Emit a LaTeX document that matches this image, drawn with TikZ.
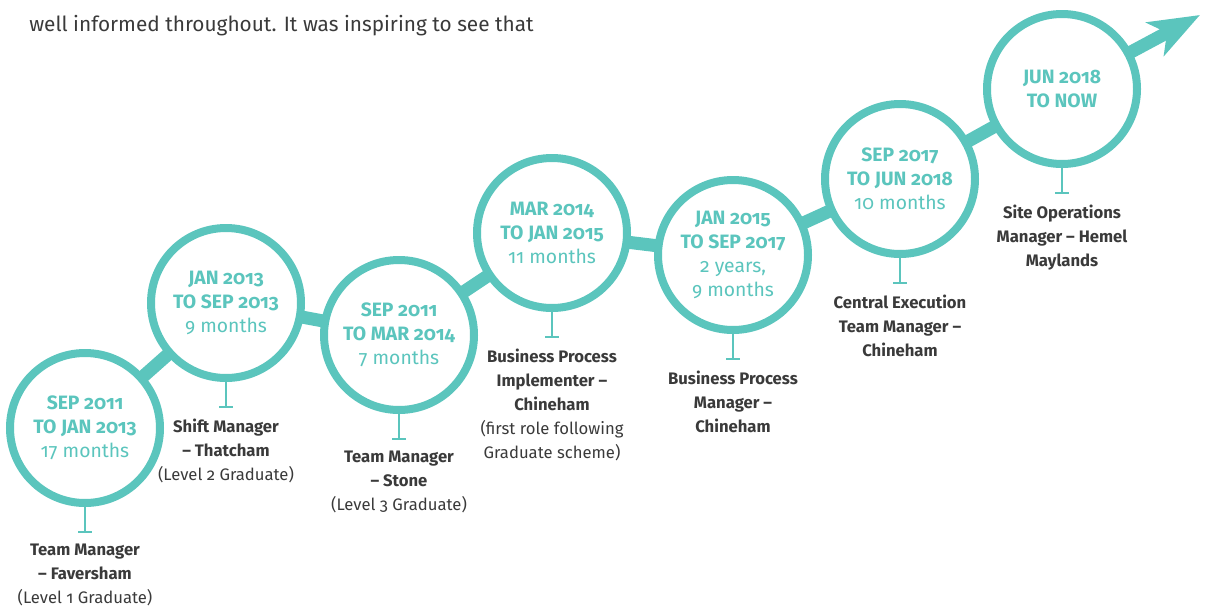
\documentclass[tikz,border=0pt]{standalone}
\usepackage{fontspec}
\setmainfont{Fira Sans}[RawFeature=+onum]
\usetikzlibrary{arrows.meta,backgrounds,positioning}

\definecolor{tlteal}{RGB}{91,197,189}
\definecolor{tlgray}{RGB}{58,58,58}

\tikzset{
  period/.style={circle, draw=tlteal, line width=6pt, fill=white, minimum size=112.5pt,
    inner sep=0pt, align=center, text=tlteal, font=\fontsize{14.5}{18}\selectfont},
  role/.style={anchor=north, inner sep=0pt, align=center, text=tlgray,
    font=\fontsize{12.5}{18}\selectfont\bfseries},
  link/.style={draw=tlteal, line width=9.75pt},
  tick/.style={draw=tlteal, line width=1.8pt, -{Bar[width=10pt]}}
}

\begin{document}
\begin{tikzpicture}[x=0.75pt,y=0.75pt,yscale=-1,xscale=1]
\useasboundingbox (0,0) rectangle (1207,607);

% Intro text
\node [anchor=base west, inner sep=0pt, text=tlgray, font=\fontsize{15.6}{18}\selectfont] (intro) at (29,31) {well informed throughout. It was inspiring to see that};

% Periods
\node [period] (p1) at (85,428) {\textbf{SEP 2011}\\\textbf{TO JAN 2013}\\17 months};
\node [period] (p2) at (226,303) {\textbf{JAN 2013}\\\textbf{TO SEP 2013}\\9 months};
\node [period] (p3) at (399,335) {\textbf{SEP 2011}\\\textbf{TO MAR 2014}\\7 months};
\node [period] (p4) at (552,233) {\textbf{MAR 2014}\\\textbf{TO JAN 2015}\\11 months};
\node [period] (p5) at (733,255) {\textbf{JAN 2015}\\\textbf{TO SEP 2017}\\2 years,\\9 months};
\node [period] (p6) at (900,179) {\textbf{SEP 2017}\\\textbf{TO JUN 2018}\\10 months};
\node [period] (p7) at (1062,89) {\textbf{JUN 2018}\\\textbf{TO NOW}};
\coordinate (tip) at (1200,15);

% Path through the periods
\begin{scope}[on background layer]
\draw [link] (p1.center) -- (p2.center) -- (p3.center) -- (p4.center) -- (p5.center) -- (p6.center) -- (p7.center);
\draw [link, -{Stealth[length=38pt, width=28pt, inset=10pt]}] (p7.center) -- (tip);
\end{scope}

% Ticks
\foreach \i in {1,...,7}{
  \coordinate [below=19.5pt of p\i] (t\i);
  \draw [tick] (p\i) -- (t\i);
}

% Roles
\node [role, below=8pt of t1] (r1) {Team Manager\\– Faversham\\\mdseries(Level 1 Graduate)};
\node [role, below=8pt of t2] (r2) {Shift Manager\\– Thatcham\\\mdseries(Level 2 Graduate)};
\node [role, below=8pt of t3] (r3) {Team Manager\\– Stone\\\mdseries(Level 3 Graduate)};
\node [role, below=8pt of t4] (r4) {Business Process\\Implementer –\\Chineham\\\mdseries(first role following\\\mdseries Graduate scheme)};
\node [role, below=8pt of t5] (r5) {Business Process\\Manager –\\Chineham};
\node [role, below=8pt of t6] (r6) {Central Execution\\Team Manager –\\Chineham};
\node [role, below=8pt of t7] (r7) {Site Operations\\Manager – Hemel\\Maylands};

\end{tikzpicture}
\end{document}
